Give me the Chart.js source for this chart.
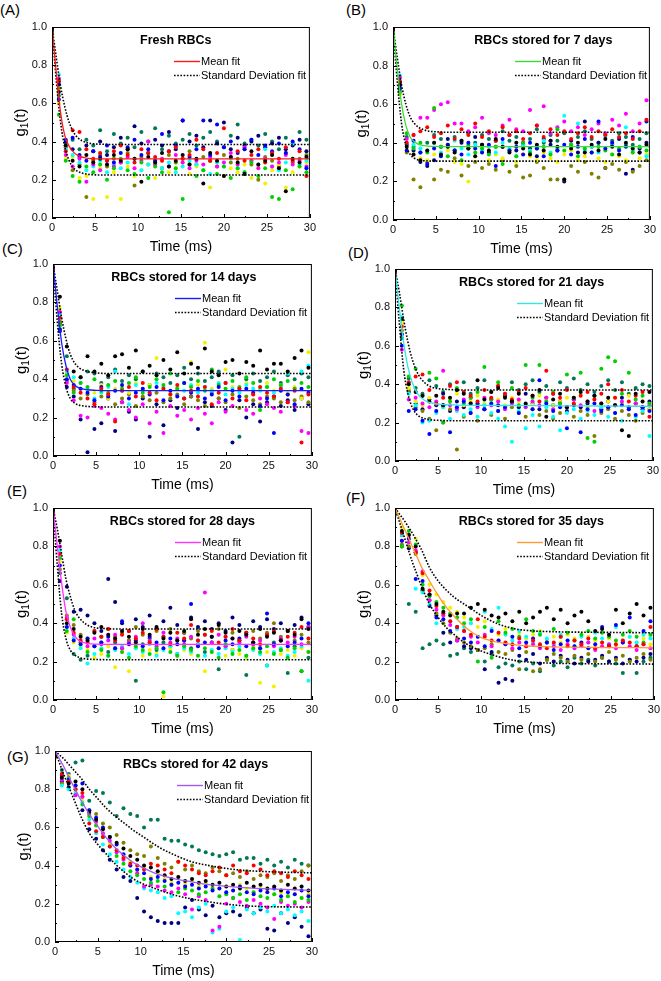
<!DOCTYPE html>
<html>
<head>
<meta charset="utf-8">
<title>g1(t) of stored RBCs</title>
<script src="https://cdn.jsdelivr.net/npm/chart.js@4.4.1/dist/chart.umd.min.js"></script>
<style>
  body { margin: 0; background: #fff; width: 661px; height: 981px; position: relative; overflow: hidden;
         font-family: "Liberation Sans", Arial, sans-serif; }
  canvas { position: absolute; }
  .tag { position: absolute; font-size: 15px; line-height: 1; color: #000; }
</style>
</head>
<body>
<div class="tag" style="left:0px;top:2px">(A)</div>
<div class="tag" style="left:346px;top:2px">(B)</div>
<div class="tag" style="left:2px;top:241px">(C)</div>
<div class="tag" style="left:348px;top:245px">(D)</div>
<div class="tag" style="left:7px;top:483px">(E)</div>
<div class="tag" style="left:346px;top:490px">(F)</div>
<div class="tag" style="left:7px;top:749px">(G)</div>
<script>
// sampling times of the measured points (ms) and of the fitted curves
const TIME = [0,0.8,1.6,2.4,3.2,4,4.8,5.6,6.4,7.2,8,8.8,9.6,10.4,11.2,12,12.8,13.6,14.4,15.2,16,16.8,17.6,18.4,19.2,20,20.8,21.6,22.4,23.2,24,24.8,25.6,26.4,27.2,28,28.8,29.6];
const FIT_TIME = [0,0.5,1,1.5,2,2.5,3,4,5,6,7,8,9,10,12,14,16,18,20,22,25,30];

// (A) fresh
const freshPts = [
  [0.99,0.66,0.38,0.30,0.27,0.33,0.29,0.31,0.28,0.33,0.30,0.36,0.31,0.19,0.32,0.29,0.34,0.27,0.30,0.33,0.28,0.31,0.18,0.34,0.30,0.22,0.32,0.29,0.23,0.35,0.28,0.30,0.33,0.26,0.14,0.31,0.29,0.32],
  [0.97,0.72,0.35,0.46,0.45,0.36,0.31,0.34,0.30,0.35,0.38,0.33,0.29,0.36,0.34,0.32,0.30,0.35,0.37,0.31,0.33,0.41,0.36,0.30,0.34,0.47,0.32,0.35,0.30,0.33,0.36,0.29,0.34,0.31,0.37,0.30,0.35,0.22],
  [1.00,0.62,0.41,0.42,0.33,0.30,0.35,0.32,0.38,0.29,0.34,0.37,0.41,0.33,0.36,0.30,0.44,0.35,0.38,0.51,0.32,0.36,0.51,0.33,0.49,0.37,0.40,0.34,0.36,0.41,0.33,0.38,0.35,0.39,0.34,0.40,0.36,0.26],
  [0.96,0.54,0.30,0.22,0.19,0.27,0.24,0.28,0.20,0.26,0.31,0.25,0.23,0.29,0.21,0.27,0.24,0.03,0.26,0.10,0.28,0.22,0.25,0.30,0.23,0.27,0.21,0.26,0.24,0.29,0.22,0.26,0.11,0.10,0.25,0.15,0.27,0.24],
  [0.98,0.73,0.33,0.27,0.31,0.19,0.28,0.25,0.30,0.27,0.29,0.32,0.26,0.30,0.40,0.28,0.31,0.27,0.33,0.29,0.26,0.30,0.28,0.32,0.27,0.29,0.34,0.28,0.37,0.30,0.26,0.31,0.27,0.29,0.33,0.28,0.30,0.27],
  [0.95,0.75,0.36,0.33,0.29,0.25,0.27,0.30,0.24,0.28,0.26,0.29,0.31,0.25,0.28,0.30,0.26,0.29,0.24,0.27,0.30,0.28,0.25,0.23,0.29,0.27,0.31,0.26,0.24,0.30,0.28,0.36,0.27,0.25,0.29,0.39,0.28,0.30],
  [0.97,0.60,0.31,0.32,0.21,0.22,0.10,0.26,0.11,0.24,0.10,0.27,0.22,0.25,0.28,0.21,0.30,0.24,0.26,0.29,0.23,0.27,0.25,0.16,0.30,0.22,0.26,0.24,0.28,0.21,0.27,0.18,0.25,0.28,0.16,0.24,0.27,0.29],
  [0.99,0.68,0.37,0.25,0.28,0.11,0.30,0.33,0.27,0.31,0.29,0.34,0.17,0.32,0.28,0.30,0.26,0.33,0.29,0.31,0.35,0.28,0.32,0.30,0.27,0.33,0.29,0.31,0.36,0.28,0.20,0.32,0.30,0.27,0.34,0.29,0.31,0.33],
  [0.96,0.70,0.40,0.36,0.32,0.38,0.35,0.40,0.33,0.37,0.42,0.36,0.48,0.39,0.34,0.41,0.38,0.45,0.36,0.51,0.40,0.43,0.37,0.51,0.39,0.50,0.36,0.42,0.38,0.40,0.43,0.37,0.39,0.42,0.36,0.38,0.41,0.35],
  [0.98,0.64,0.39,0.41,0.36,0.41,0.38,0.46,0.35,0.44,0.39,0.42,0.37,0.45,0.40,0.47,0.36,0.43,0.39,0.41,0.44,0.38,0.42,0.45,0.40,0.37,0.43,0.49,0.39,0.41,0.38,0.44,0.40,0.36,0.42,0.39,0.45,0.41]
];
const freshMean  = [1.0,0.76,0.55,0.43,0.375,0.345,0.328,0.313,0.31,0.31,0.31,0.31,0.31,0.31,0.31,0.31,0.31,0.31,0.31,0.31,0.31,0.31];
const freshUpper = [1.0,0.84,0.69,0.58,0.50,0.45,0.42,0.395,0.388,0.386,0.385,0.385,0.385,0.385,0.385,0.385,0.385,0.385,0.385,0.385,0.385,0.385];
const freshLower = [1.0,0.72,0.50,0.37,0.30,0.262,0.244,0.23,0.226,0.225,0.225,0.225,0.225,0.225,0.225,0.225,0.225,0.225,0.225,0.225,0.225,0.225];

// (B) 7 days
const day7Pts = [
  [0.99,0.70,0.38,0.34,0.31,0.36,0.40,0.34,0.38,0.35,0.41,0.37,0.33,0.39,0.36,0.42,0.38,0.35,0.40,0.37,0.34,0.39,0.36,0.41,0.38,0.21,0.37,0.40,0.35,0.39,0.36,0.42,0.38,0.34,0.40,0.37,0.35,0.39],
  [0.98,0.72,0.40,0.44,0.46,0.48,0.43,0.45,0.49,0.42,0.47,0.44,0.50,0.43,0.46,0.41,0.48,0.44,0.46,0.42,0.45,0.49,0.43,0.47,0.44,0.46,0.42,0.45,0.48,0.43,0.46,0.44,0.47,0.43,0.45,0.42,0.46,0.52],
  [1.00,0.68,0.36,0.41,0.35,0.29,0.37,0.33,0.39,0.36,0.34,0.40,0.37,0.35,0.39,0.28,0.42,0.36,0.38,0.34,0.40,0.37,0.33,0.41,0.36,0.39,0.34,0.38,0.42,0.35,0.51,0.37,0.40,0.36,0.38,0.43,0.35,0.51],
  [0.97,0.66,0.45,0.37,0.40,0.35,0.58,0.38,0.33,0.36,0.31,0.39,0.35,0.37,0.34,0.38,0.29,0.36,0.33,0.40,0.35,0.37,0.38,0.34,0.47,0.36,0.39,0.33,0.37,0.35,0.38,0.36,0.34,0.37,0.39,0.35,0.38,0.36],
  [0.99,0.74,0.42,0.44,0.53,0.53,0.57,0.60,0.61,0.50,0.50,0.46,0.48,0.53,0.45,0.44,0.49,0.52,0.47,0.46,0.57,0.49,0.59,0.45,0.48,0.51,0.46,0.48,0.44,0.47,0.50,0.45,0.52,0.49,0.55,0.46,0.50,0.62],
  [0.96,0.75,0.40,0.39,0.37,0.36,0.40,0.35,0.38,0.41,0.37,0.34,0.39,0.36,0.38,0.35,0.40,0.37,0.33,0.39,0.36,0.38,0.41,0.35,0.37,0.54,0.39,0.50,0.36,0.38,0.35,0.43,0.39,0.37,0.48,0.36,0.38,0.33],
  [0.98,0.65,0.37,0.34,0.32,0.31,0.34,0.33,0.36,0.30,0.29,0.20,0.33,0.35,0.31,0.34,0.32,0.36,0.30,0.34,0.33,0.31,0.35,0.32,0.30,0.34,0.36,0.31,0.33,0.35,0.32,0.30,0.34,0.33,0.31,0.35,0.32,0.34],
  [0.97,0.67,0.35,0.21,0.17,0.30,0.21,0.26,0.25,0.32,0.23,0.28,0.30,0.27,0.29,0.26,0.31,0.25,0.28,0.22,0.23,0.30,0.27,0.21,0.21,0.21,0.28,0.25,0.30,0.24,0.22,0.27,0.29,0.26,0.30,0.25,0.28,0.31],
  [1.00,0.71,0.39,0.36,0.30,0.28,0.31,0.38,0.42,0.36,0.40,0.37,0.43,0.39,0.35,0.41,0.38,0.44,0.36,0.40,0.37,0.33,0.42,0.39,0.36,0.20,0.41,0.35,0.51,0.38,0.40,0.27,0.39,0.42,0.24,0.26,0.37,0.40],
  [0.98,0.69,0.43,0.38,0.35,0.40,0.44,0.42,0.39,0.43,0.41,0.45,0.40,0.44,0.42,0.38,0.46,0.41,0.43,0.39,0.42,0.47,0.40,0.44,0.41,0.45,0.39,0.43,0.46,0.42,0.40,0.44,0.41,0.45,0.43,0.39,0.42,0.45]
];
const day7Mean  = [1.0,0.78,0.60,0.49,0.43,0.405,0.392,0.383,0.381,0.38,0.38,0.38,0.38,0.38,0.38,0.38,0.38,0.38,0.38,0.38,0.38,0.38];
const day7Upper = [1.0,0.84,0.70,0.60,0.535,0.50,0.48,0.462,0.457,0.455,0.455,0.455,0.455,0.455,0.455,0.455,0.455,0.455,0.455,0.455,0.455,0.455];
const day7Lower = [1.0,0.72,0.50,0.39,0.34,0.32,0.311,0.306,0.305,0.305,0.305,0.305,0.305,0.305,0.305,0.305,0.305,0.305,0.305,0.305,0.305,0.305];

// (C) 14 days
const day14Pts = [
  [0.98,0.83,0.57,0.44,0.41,0.52,0.44,0.48,0.42,0.52,0.53,0.46,0.55,0.44,0.47,0.42,0.50,0.45,0.54,0.43,0.48,0.46,0.56,0.44,0.42,0.49,0.50,0.43,0.49,0.47,0.55,0.45,0.48,0.48,0.44,0.51,0.55,0.46],
  [0.97,0.72,0.45,0.36,0.33,0.30,0.27,0.35,0.32,0.18,0.34,0.36,0.31,0.38,0.33,0.29,0.35,0.32,0.37,0.30,0.34,0.31,0.36,0.27,0.33,0.38,0.30,0.35,0.29,0.32,0.36,0.33,0.31,0.35,0.28,0.34,0.07,0.32],
  [1.00,0.65,0.40,0.37,0.35,0.33,0.29,0.36,0.31,0.34,0.37,0.30,0.33,0.35,0.32,0.36,0.29,0.34,0.31,0.38,0.33,0.35,0.30,0.32,0.36,0.29,0.34,0.31,0.35,0.33,0.26,0.30,0.12,0.34,0.32,0.27,0.35,0.33],
  [0.96,0.68,0.42,0.33,0.38,0.36,0.40,0.34,0.37,0.39,0.35,0.38,0.41,0.33,0.36,0.40,0.37,0.43,0.35,0.38,0.36,0.39,0.34,0.45,0.37,0.35,0.39,0.36,0.41,0.38,0.24,0.36,0.40,0.37,0.39,0.35,0.38,0.36],
  [0.99,0.75,0.38,0.29,0.21,0.20,0.26,0.25,0.22,0.19,0.28,0.24,0.20,0.27,0.17,0.23,0.12,0.26,0.21,0.24,0.19,0.25,0.22,0.17,0.28,0.23,0.26,0.35,0.24,0.22,0.30,0.27,0.25,0.23,0.28,0.26,0.13,0.12],
  [0.95,0.74,0.44,0.41,0.38,0.35,0.30,0.33,0.36,0.44,0.34,0.27,0.37,0.35,0.33,0.38,0.36,0.32,0.35,0.34,0.37,0.33,0.36,0.34,0.38,0.32,0.35,0.33,0.37,0.35,0.34,0.36,0.33,0.36,0.43,0.35,0.44,0.47],
  [0.98,0.77,0.43,0.39,0.35,0.34,0.33,0.37,0.30,0.35,0.36,0.33,0.38,0.34,0.37,0.51,0.35,0.33,0.36,0.34,0.49,0.37,0.59,0.35,0.33,0.45,0.36,0.34,0.38,0.32,0.35,0.38,0.34,0.37,0.33,0.36,0.30,0.54],
  [0.97,0.70,0.39,0.34,0.30,0.32,0.28,0.31,0.33,0.27,0.30,0.32,0.26,0.31,0.29,0.33,0.28,0.30,0.32,0.27,0.31,0.29,0.26,0.33,0.30,0.28,0.32,0.25,0.31,0.29,0.27,0.31,0.30,0.28,0.32,0.29,0.31,0.28],
  [0.99,0.66,0.36,0.31,0.19,0.02,0.14,0.17,0.30,0.13,0.28,0.23,0.19,0.30,0.10,0.27,0.16,0.29,0.25,0.30,0.31,0.14,0.28,0.26,0.30,0.24,0.07,0.29,0.20,0.27,0.18,0.28,0.31,0.26,0.29,0.24,0.30,0.27],
  [0.98,0.69,0.52,0.35,0.41,0.44,0.43,0.38,0.41,0.45,0.39,0.42,0.40,0.44,0.37,0.43,0.41,0.38,0.42,0.46,0.40,0.43,0.39,0.41,0.44,0.38,0.42,0.10,0.40,0.43,0.39,0.41,0.44,0.38,0.42,0.40,0.43,0.41]
];
const day14Mean  = [1.0,0.78,0.59,0.47,0.40,0.37,0.355,0.345,0.342,0.34,0.34,0.34,0.34,0.34,0.34,0.34,0.34,0.34,0.34,0.34,0.34,0.34];
const day14Upper = [1.0,0.86,0.72,0.61,0.53,0.485,0.46,0.44,0.433,0.43,0.43,0.43,0.43,0.43,0.43,0.43,0.43,0.43,0.43,0.43,0.43,0.43];
const day14Lower = [1.0,0.70,0.48,0.36,0.30,0.275,0.265,0.258,0.256,0.255,0.255,0.255,0.255,0.255,0.255,0.255,0.255,0.255,0.255,0.255,0.255,0.255];

// (D) 21 days
const day21Pts = [
  [0.99,0.74,0.40,0.36,0.34,0.31,0.34,0.29,0.33,0.37,0.35,0.30,0.42,0.32,0.36,0.38,0.33,0.31,0.35,0.30,0.34,0.37,0.23,0.32,0.35,0.28,0.33,0.36,0.31,0.34,0.30,0.33,0.29,0.16,0.13,0.35,0.31,0.36],
  [0.97,0.70,0.41,0.44,0.45,0.37,0.30,0.33,0.39,0.41,0.36,0.34,0.31,0.37,0.33,0.39,0.35,0.32,0.36,0.38,0.34,0.31,0.47,0.35,0.33,0.37,0.30,0.34,0.36,0.32,0.35,0.40,0.33,0.37,0.31,0.34,0.36,0.23],
  [1.00,0.60,0.26,0.27,0.21,0.14,0.26,0.29,0.15,0.28,0.31,0.25,0.29,0.27,0.30,0.26,0.28,0.31,0.25,0.29,0.27,0.42,0.30,0.26,0.28,0.17,0.29,0.15,0.27,0.30,0.26,0.28,0.25,0.29,0.27,0.24,0.28,0.26],
  [0.96,0.81,0.44,0.48,0.34,0.46,0.43,0.20,0.31,0.38,0.30,0.33,0.36,0.49,0.32,0.41,0.35,0.38,0.29,0.50,0.33,0.50,0.31,0.36,0.30,0.45,0.33,0.46,0.12,0.10,0.48,0.54,0.52,0.35,0.46,0.32,0.34,0.30],
  [0.98,0.58,0.32,0.33,0.30,0.28,0.31,0.47,0.29,0.27,0.32,0.30,0.28,0.33,0.29,0.31,0.27,0.30,0.32,0.28,0.31,0.29,0.33,0.27,0.30,0.28,0.32,0.29,0.31,0.26,0.30,0.28,0.29,0.31,0.27,0.30,0.28,0.29],
  [0.95,0.75,0.35,0.29,0.20,0.21,0.25,0.28,0.22,0.26,0.24,0.27,0.23,0.29,0.25,0.22,0.18,0.10,0.26,0.17,0.24,0.18,0.28,0.23,0.16,0.25,0.27,0.22,0.26,0.24,0.28,0.23,0.25,0.21,0.27,0.23,0.26,0.13],
  [0.99,0.72,0.38,0.31,0.29,0.33,0.30,0.28,0.32,0.35,0.29,0.31,0.34,0.30,0.36,0.32,0.29,0.33,0.31,0.28,0.30,0.34,0.32,0.29,0.31,0.33,0.30,0.35,0.28,0.32,0.29,0.31,0.33,0.30,0.34,0.29,0.31,0.27],
  [0.97,0.68,0.37,0.28,0.26,0.22,0.16,0.20,0.27,0.06,0.23,0.25,0.21,0.27,0.24,0.26,0.22,0.28,0.25,0.23,0.27,0.24,0.26,0.22,0.25,0.28,0.23,0.26,0.24,0.13,0.25,0.27,0.22,0.26,0.24,0.21,0.25,0.27],
  [0.99,0.66,0.36,0.30,0.27,0.32,0.29,0.35,0.26,0.31,0.28,0.33,0.30,0.27,0.32,0.29,0.34,0.31,0.28,0.35,0.30,0.27,0.33,0.29,0.31,0.26,0.32,0.28,0.30,0.34,0.27,0.31,0.29,0.33,0.28,0.30,0.27,0.31],
  [0.98,0.64,0.43,0.38,0.35,0.42,0.39,0.36,0.40,0.37,0.41,0.35,0.38,0.42,0.36,0.39,0.34,0.41,0.37,0.40,0.42,0.36,0.39,0.35,0.41,0.38,0.43,0.37,0.40,0.36,0.39,0.42,0.37,0.41,0.35,0.38,0.40,0.39]
];
const day21Mean  = [1.0,0.80,0.62,0.49,0.41,0.36,0.33,0.305,0.296,0.293,0.292,0.291,0.29,0.29,0.289,0.289,0.288,0.288,0.287,0.287,0.286,0.285];
const day21Upper = [1.0,0.88,0.74,0.62,0.53,0.47,0.43,0.39,0.377,0.373,0.371,0.37,0.37,0.37,0.37,0.37,0.37,0.37,0.37,0.37,0.37,0.37];
const day21Lower = [1.0,0.72,0.48,0.35,0.28,0.245,0.228,0.215,0.212,0.21,0.21,0.21,0.21,0.21,0.21,0.21,0.21,0.21,0.21,0.21,0.21,0.21];

// (E) 28 days
const day28Pts = [
  [0.99,0.83,0.40,0.37,0.33,0.31,0.35,0.38,0.34,0.32,0.36,0.33,0.30,0.37,0.34,0.38,0.32,0.35,0.31,0.36,0.42,0.34,0.37,0.33,0.39,0.35,0.32,0.36,0.34,0.30,0.37,0.33,0.35,0.31,0.36,0.34,0.42,0.37],
  [0.97,0.76,0.42,0.35,0.31,0.30,0.36,0.33,0.37,0.31,0.34,0.36,0.32,0.35,0.30,0.37,0.33,0.29,0.35,0.32,0.39,0.31,0.34,0.36,0.30,0.33,0.37,0.31,0.35,0.32,0.29,0.34,0.36,0.31,0.33,0.35,0.38,0.32],
  [1.00,0.70,0.38,0.31,0.29,0.32,0.28,0.30,0.33,0.27,0.41,0.29,0.31,0.28,0.33,0.30,0.27,0.32,0.29,0.31,0.50,0.28,0.30,0.33,0.27,0.31,0.29,0.32,0.28,0.30,0.27,0.45,0.29,0.31,0.28,0.30,0.32,0.40],
  [0.96,0.74,0.36,0.42,0.30,0.25,0.28,0.26,0.23,0.27,0.25,0.22,0.28,0.26,0.24,0.27,0.04,0.25,0.23,0.28,0.26,0.23,0.27,0.25,0.22,0.29,0.24,0.26,0.23,0.27,0.25,0.28,0.24,0.26,0.22,0.27,0.15,0.25],
  [0.98,0.80,0.43,0.34,0.30,0.28,0.32,0.29,0.31,0.34,0.27,0.30,0.33,0.40,0.31,0.28,0.35,0.30,0.32,0.29,0.33,0.31,0.56,0.30,0.34,0.28,0.32,0.30,0.33,0.29,0.31,0.34,0.28,0.32,0.30,0.33,0.29,0.38],
  [0.95,0.78,0.38,0.32,0.27,0.19,0.24,0.27,0.23,0.26,0.28,0.24,0.27,0.25,0.29,0.23,0.26,0.28,0.24,0.27,0.25,0.29,0.23,0.26,0.24,0.27,0.25,0.28,0.23,0.26,0.24,0.18,0.25,0.27,0.23,0.25,0.28,0.10],
  [0.99,0.72,0.35,0.30,0.28,0.26,0.22,0.24,0.28,0.17,0.25,0.15,0.27,0.23,0.26,0.24,0.02,0.27,0.23,0.26,0.24,0.28,0.15,0.25,0.27,0.23,0.26,0.24,0.22,0.28,0.09,0.25,0.07,0.24,0.26,0.23,0.27,0.25],
  [0.97,0.68,0.44,0.39,0.34,0.32,0.36,0.30,0.37,0.33,0.35,0.31,0.38,0.34,0.30,0.36,0.33,0.37,0.31,0.35,0.32,0.36,0.34,0.30,0.37,0.33,0.35,0.31,0.34,0.36,0.32,0.35,0.40,0.33,0.36,0.31,0.34,0.30],
  [0.99,0.62,0.59,0.46,0.47,0.44,0.40,0.36,0.63,0.51,0.40,0.36,0.42,0.38,0.44,0.37,0.41,0.48,0.39,0.35,0.43,0.38,0.41,0.37,0.40,0.36,0.43,0.39,0.35,0.41,0.38,0.42,0.37,0.40,0.36,0.39,0.43,0.38],
  [0.98,0.66,0.53,0.24,0.21,0.23,0.28,0.33,0.25,0.30,0.27,0.31,0.10,0.29,0.32,0.26,0.30,0.28,0.24,0.31,0.27,0.29,0.25,0.30,0.16,0.28,0.26,0.31,0.13,0.29,0.27,0.18,0.30,0.26,0.14,0.28,0.15,0.22]
];
const day28Mean  = [1.0,0.80,0.61,0.46,0.38,0.335,0.31,0.295,0.291,0.29,0.29,0.29,0.29,0.29,0.29,0.29,0.29,0.29,0.29,0.29,0.29,0.29];
const day28Upper = [1.0,0.89,0.76,0.63,0.54,0.47,0.43,0.39,0.375,0.372,0.37,0.37,0.37,0.37,0.37,0.37,0.37,0.37,0.37,0.37,0.37,0.37];
const day28Lower = [1.0,0.70,0.45,0.32,0.26,0.235,0.222,0.213,0.211,0.21,0.21,0.21,0.21,0.21,0.21,0.21,0.21,0.21,0.21,0.21,0.21,0.21];

// (F) 35 days
const day35Pts = [
  [0.99,0.88,0.86,0.80,0.58,0.55,0.50,0.46,0.44,0.45,0.45,0.48,0.50,0.47,0.44,0.43,0.45,0.41,0.46,0.40,0.43,0.46,0.48,0.42,0.47,0.40,0.44,0.46,0.41,0.36,0.37,0.34,0.47,0.40,0.45,0.50,0.44,0.48],
  [0.98,0.87,0.86,0.77,0.66,0.57,0.49,0.45,0.41,0.38,0.36,0.34,0.42,0.33,0.31,0.35,0.30,0.29,0.32,0.28,0.31,0.29,0.27,0.30,0.33,0.28,0.31,0.29,0.32,0.27,0.30,0.28,0.29,0.31,0.30,0.28,0.29,0.38],
  [1.00,0.83,0.84,0.63,0.62,0.55,0.43,0.42,0.36,0.38,0.32,0.30,0.33,0.28,0.36,0.31,0.29,0.33,0.27,0.30,0.32,0.28,0.30,0.26,0.29,0.31,0.28,0.30,0.27,0.29,0.38,0.28,0.39,0.30,0.43,0.28,0.36,0.41],
  [0.97,0.80,0.88,0.81,0.60,0.54,0.51,0.48,0.45,0.43,0.40,0.42,0.20,0.38,0.22,0.41,0.35,0.37,0.33,0.42,0.36,0.34,0.30,0.37,0.33,0.35,0.31,0.34,0.36,0.32,0.35,0.33,0.31,0.34,0.36,0.33,0.30,0.34],
  [0.99,0.83,0.82,0.78,0.67,0.52,0.47,0.44,0.39,0.31,0.36,0.33,0.30,0.34,0.28,0.31,0.29,0.27,0.30,0.28,0.29,0.27,0.30,0.28,0.26,0.29,0.27,0.28,0.30,0.26,0.28,0.29,0.27,0.30,0.28,0.26,0.29,0.27],
  [0.96,0.86,0.82,0.58,0.56,0.50,0.40,0.45,0.41,0.37,0.38,0.40,0.33,0.46,0.37,0.48,0.34,0.31,0.36,0.33,0.30,0.35,0.32,0.29,0.34,0.31,0.28,0.33,0.30,0.35,0.32,0.29,0.38,0.31,0.33,0.30,0.34,0.32],
  [0.98,0.90,0.84,0.84,0.65,0.60,0.55,0.51,0.48,0.46,0.43,0.40,0.38,0.41,0.36,0.34,0.37,0.33,0.35,0.32,0.34,0.36,0.31,0.33,0.30,0.34,0.32,0.29,0.33,0.31,0.30,0.32,0.29,0.31,0.33,0.30,0.32,0.29],
  [0.97,0.81,0.80,0.76,0.57,0.52,0.45,0.40,0.35,0.32,0.30,0.28,0.26,0.27,0.29,0.25,0.24,0.26,0.16,0.25,0.15,0.16,0.21,0.24,0.22,0.20,0.23,0.21,0.24,0.20,0.22,0.25,0.21,0.23,0.20,0.22,0.24,0.21],
  [0.99,0.86,0.79,0.77,0.57,0.49,0.44,0.35,0.30,0.31,0.28,0.27,0.26,0.16,0.25,0.09,0.11,0.10,0.23,0.21,0.24,0.19,0.22,0.20,0.23,0.21,0.19,0.22,0.20,0.21,0.23,0.20,0.22,0.19,0.21,0.20,0.22,0.24],
  [0.98,0.80,0.50,0.46,0.27,0.29,0.31,0.29,0.23,0.24,0.27,0.25,0.26,0.20,0.24,0.17,0.19,0.18,0.20,0.16,0.19,0.15,0.21,0.18,0.20,0.17,0.22,0.19,0.21,0.18,0.22,0.20,0.19,0.14,0.21,0.14,0.20,0.22]
];
const day35Mean  = [1.0,0.95,0.90,0.85,0.80,0.75,0.70,0.62,0.545,0.48,0.43,0.385,0.35,0.325,0.30,0.287,0.28,0.277,0.275,0.274,0.273,0.272];
const day35Upper = [1.0,0.97,0.94,0.905,0.87,0.83,0.79,0.69,0.62,0.57,0.53,0.50,0.47,0.44,0.395,0.37,0.36,0.356,0.354,0.353,0.352,0.35];
const day35Lower = [1.0,0.93,0.86,0.79,0.72,0.66,0.60,0.50,0.43,0.375,0.335,0.30,0.275,0.255,0.225,0.205,0.196,0.192,0.19,0.189,0.188,0.187];

// (G) 42 days
const day42Pts = [
  [0.97,0.86,0.83,0.84,0.80,0.68,0.64,0.59,0.55,0.52,0.49,0.45,0.43,0.40,0.39,0.37,0.35,0.33,0.34,0.32,0.33,0.31,0.32,0.30,0.31,0.29,0.30,0.28,0.31,0.29,0.30,0.28,0.29,0.27,0.30,0.28,0.29,0.27],
  [0.99,0.88,0.84,0.80,0.78,0.62,0.58,0.55,0.50,0.48,0.44,0.41,0.40,0.38,0.41,0.40,0.38,0.36,0.42,0.40,0.38,0.36,0.35,0.37,0.39,0.35,0.40,0.37,0.36,0.40,0.38,0.35,0.37,0.36,0.34,0.37,0.35,0.33],
  [0.98,0.87,0.85,0.82,0.83,0.69,0.65,0.60,0.55,0.51,0.46,0.40,0.38,0.36,0.33,0.34,0.32,0.30,0.31,0.29,0.30,0.28,0.29,0.27,0.28,0.26,0.27,0.29,0.26,0.25,0.27,0.26,0.28,0.24,0.26,0.25,0.27,0.24],
  [1.00,0.88,0.86,0.80,0.72,0.66,0.61,0.55,0.50,0.45,0.41,0.37,0.35,0.33,0.31,0.32,0.29,0.30,0.26,0.28,0.27,0.25,0.26,0.28,0.24,0.25,0.23,0.25,0.22,0.26,0.24,0.23,0.25,0.22,0.24,0.21,0.23,0.22],
  [0.97,0.85,0.84,0.77,0.76,0.67,0.63,0.57,0.53,0.47,0.43,0.40,0.36,0.29,0.30,0.29,0.27,0.26,0.28,0.25,0.17,0.24,0.22,0.06,0.08,0.20,0.23,0.21,0.19,0.22,0.20,0.18,0.12,0.21,0.19,0.20,0.18,0.21],
  [0.98,0.82,0.80,0.78,0.73,0.64,0.57,0.51,0.46,0.42,0.38,0.34,0.31,0.28,0.27,0.26,0.23,0.24,0.15,0.16,0.13,0.18,0.20,0.05,0.07,0.16,0.18,0.01,0.17,0.15,0.18,0.16,0.19,0.15,0.17,0.14,0.16,0.11],
  [0.96,0.86,0.87,0.79,0.74,0.65,0.62,0.56,0.52,0.48,0.45,0.42,0.37,0.39,0.34,0.36,0.33,0.31,0.34,0.30,0.32,0.29,0.31,0.30,0.28,0.29,0.27,0.30,0.28,0.26,0.28,0.27,0.25,0.26,0.24,0.25,0.23,0.25],
  [0.99,0.83,0.85,0.82,0.76,0.69,0.67,0.62,0.60,0.56,0.52,0.48,0.46,0.45,0.50,0.44,0.41,0.39,0.42,0.38,0.40,0.37,0.36,0.39,0.37,0.35,0.36,0.34,0.37,0.33,0.35,0.34,0.36,0.32,0.35,0.33,0.37,0.40],
  [0.98,0.84,0.81,0.77,0.69,0.59,0.54,0.48,0.43,0.38,0.34,0.32,0.23,0.16,0.13,0.11,0.10,0.10,0.10,0.18,0.22,0.17,0.14,0.19,0.13,0.15,0.16,0.14,0.18,0.15,0.17,0.07,0.06,0.15,0.10,0.13,0.08,0.03],
  [0.99,0.90,0.88,0.94,0.95,0.74,0.79,0.78,0.73,0.66,0.70,0.67,0.66,0.60,0.64,0.64,0.54,0.53,0.53,0.51,0.50,0.48,0.47,0.46,0.45,0.46,0.47,0.43,0.44,0.44,0.41,0.43,0.40,0.42,0.39,0.43,0.41,0.40]
];
const day42Mean  = [1.0,0.96,0.92,0.875,0.83,0.787,0.745,0.67,0.605,0.545,0.495,0.455,0.42,0.395,0.355,0.33,0.315,0.30,0.292,0.285,0.278,0.27];
const day42Upper = [1.0,0.98,0.96,0.935,0.91,0.885,0.86,0.80,0.75,0.70,0.66,0.625,0.59,0.56,0.50,0.455,0.42,0.40,0.385,0.375,0.368,0.362];
const day42Lower = [1.0,0.94,0.88,0.825,0.77,0.715,0.66,0.57,0.51,0.46,0.41,0.37,0.335,0.31,0.275,0.245,0.225,0.21,0.198,0.19,0.185,0.183];

const SERIES_COLORS = ['#000000','#ff0000','#0000ff','#00d000','#ff00ff','#00ffff','#f2f200','#808000','#000080','#007858'];

// panel frames: pixel edges of each plot box on the page
const panels = [
  {title: 'Fresh RBCs',             titleX: 0.48,  meanColor: '#ff1a1a', pts: freshPts, mean: freshMean, upper: freshUpper, lower: freshLower, x0: 52,  x1: 311, yt: 27,  yb: 218},
  {title: 'RBCs stored for 7 days',  titleX: 0.585, meanColor: '#3ddc3d', pts: day7Pts,  mean: day7Mean,  upper: day7Upper,  lower: day7Lower,  x0: 393, x1: 651, yt: 27,  yb: 220},
  {title: 'RBCs stored for 14 days', titleX: 0.505, meanColor: '#1a1aff', pts: day14Pts, mean: day14Mean, upper: day14Upper, lower: day14Lower, x0: 53,  x1: 313, yt: 264, yb: 456},
  {title: 'RBCs stored for 21 days', titleX: 0.53,  meanColor: '#33e6e6', pts: day21Pts, mean: day21Mean, upper: day21Upper, lower: day21Lower, x0: 395, x1: 654, yt: 269, yb: 461},
  {title: 'RBCs stored for 28 days', titleX: 0.50,  meanColor: '#ff33ff', pts: day28Pts, mean: day28Mean, upper: day28Upper, lower: day28Lower, x0: 53,  x1: 313, yt: 508, yb: 700},
  {title: 'RBCs stored for 35 days', titleX: 0.527, meanColor: '#ff9933', pts: day35Pts, mean: day35Mean, upper: day35Upper, lower: day35Lower, x0: 395, x1: 655, yt: 508, yb: 700},
  {title: 'RBCs stored for 42 days', titleX: 0.547, meanColor: '#a05cf0', pts: day42Pts, mean: day42Mean, upper: day42Upper, lower: day42Lower, x0: 55,  x1: 313, yt: 751, yb: 942},
];

Chart.defaults.font.family = '"Liberation Sans", Arial, sans-serif';
Chart.defaults.color = '#111';

const FONT = '"Liberation Sans", Arial, sans-serif';

// frame, inward ticks, title, legend and axis titles
const panelDeco = {
  id: 'panelDeco',
  afterDatasetsDraw(chart, args, o) {
    const {ctx, chartArea: a, scales: {x, y}} = chart;
    ctx.save();
    ctx.strokeStyle = '#000';
    ctx.lineWidth = 1;
    ctx.setLineDash([]);
    ctx.strokeRect(a.left + 0.5, a.top + 0.5, a.right - a.left - 1, a.bottom - a.top - 1);

    ctx.beginPath();
    for (let i = 0; i <= 10; i++) {
      const py = Math.round(y.getPixelForValue(i / 10)) + 0.5;
      const len = i % 2 === 0 ? 4 : 2;
      ctx.moveTo(a.left, py); ctx.lineTo(a.left + len, py);
    }
    for (let i = 0; i <= 12; i++) {
      const px = Math.round(x.getPixelForValue(i * 2.5)) + 0.5;
      const len = i % 2 === 0 ? 4 : 2;
      ctx.moveTo(px, a.bottom); ctx.lineTo(px, a.bottom - len);
    }
    ctx.stroke();

    ctx.fillStyle = '#000';
    ctx.textBaseline = 'middle';
    ctx.textAlign = 'center';
    ctx.font = 'bold 12.5px ' + FONT;
    ctx.fillText(o.title, a.left + o.titleX * (a.right - a.left), a.top + 13.5);

    // legend
    const lx = a.left + 122;
    ctx.lineWidth = 1.4;
    ctx.strokeStyle = o.meanColor;
    ctx.beginPath(); ctx.moveTo(lx, a.top + 34.5); ctx.lineTo(lx + 26, a.top + 34.5); ctx.stroke();
    ctx.strokeStyle = '#000';
    ctx.lineWidth = 1.6;
    ctx.setLineDash([1.6, 1.6]);
    ctx.beginPath(); ctx.moveTo(lx, a.top + 48.5); ctx.lineTo(lx + 26, a.top + 48.5); ctx.stroke();
    ctx.setLineDash([]);
    ctx.textAlign = 'left';
    ctx.font = '11px ' + FONT;
    ctx.fillText('Mean fit', lx + 27, a.top + 34.5);
    ctx.fillText('Standard Deviation fit', lx + 27, a.top + 48.5);

    // axis titles
    ctx.textAlign = 'center';
    ctx.font = '14px ' + FONT;
    ctx.fillText('Time (ms)', (a.left + a.right) / 2, a.bottom + 29);

    ctx.translate(a.left - 31, (a.top + a.bottom) / 2);
    ctx.rotate(-Math.PI / 2);
    ctx.textAlign = 'left';
    ctx.font = '15px ' + FONT;
    const wg = ctx.measureText('g').width, wt = ctx.measureText('(t)').width;
    ctx.font = '10px ' + FONT;
    const w1 = ctx.measureText('1').width;
    let cx = -(wg + w1 + wt) / 2;
    ctx.font = '15px ' + FONT;
    ctx.fillText('g', cx, 0); cx += wg;
    ctx.font = '10px ' + FONT;
    ctx.fillText('1', cx, 4); cx += w1;
    ctx.font = '15px ' + FONT;
    ctx.fillText('(t)', cx, 0);
    ctx.restore();
  }
};

function fitLine(vals, color, dash, width) {
  return {
    type: 'line',
    data: FIT_TIME.map((t, i) => ({x: t, y: vals[i]})),
    borderColor: color, borderWidth: width, borderDash: dash,
    pointRadius: 0, fill: false, cubicInterpolationMode: 'monotone',
  };
}

function makePanel(p) {
  const L = 52, TOP = 12, R = 8, B = 40;
  const cv = document.createElement('canvas');
  cv.width = (p.x1 - p.x0) + L + R;
  cv.height = (p.yb - p.yt) + TOP + B;
  cv.style.left = (p.x0 - L) + 'px';
  cv.style.top = (p.yt - TOP) + 'px';
  document.body.appendChild(cv);

  const datasets = [
    fitLine(p.mean, p.meanColor, [], 1.3),
    fitLine(p.upper, '#000', [1.6, 1.6], 1.6),
    fitLine(p.lower, '#000', [1.6, 1.6], 1.6),
    ...p.pts.map((s, i) => ({
      type: 'scatter',
      data: TIME.map((t, j) => ({x: t, y: s[j]})),
      backgroundColor: SERIES_COLORS[i], borderWidth: 0,
      pointRadius: 2.0, pointHoverRadius: 2.0,
    })),
  ];

  new Chart(cv, {
    type: 'scatter',
    data: {datasets},
    options: {
      responsive: false, animation: false, events: [],
      layout: {padding: {top: TOP, right: R, left: 0, bottom: 0}},
      plugins: {
        legend: {display: false},
        tooltip: {enabled: false},
        panelDeco: {title: p.title, titleX: p.titleX, meanColor: p.meanColor},
      },
      scales: {
        x: {
          type: 'linear', min: 0, max: 30,
          grid: {display: false, drawTicks: false}, border: {display: false},
          ticks: {stepSize: 5, padding: 3, font: {size: 11}, color: '#111', maxRotation: 0},
          afterFit: s => { s.height = B; },
        },
        y: {
          type: 'linear', min: 0, max: 1,
          grid: {display: false, drawTicks: false}, border: {display: false},
          ticks: {stepSize: 0.2, padding: 5, font: {size: 11}, color: '#111', callback: v => v.toFixed(1)},
          afterFit: s => { s.width = L; },
        },
      },
    },
    plugins: [panelDeco],
  });
}

panels.forEach(makePanel);
</script>
</body>
</html>
